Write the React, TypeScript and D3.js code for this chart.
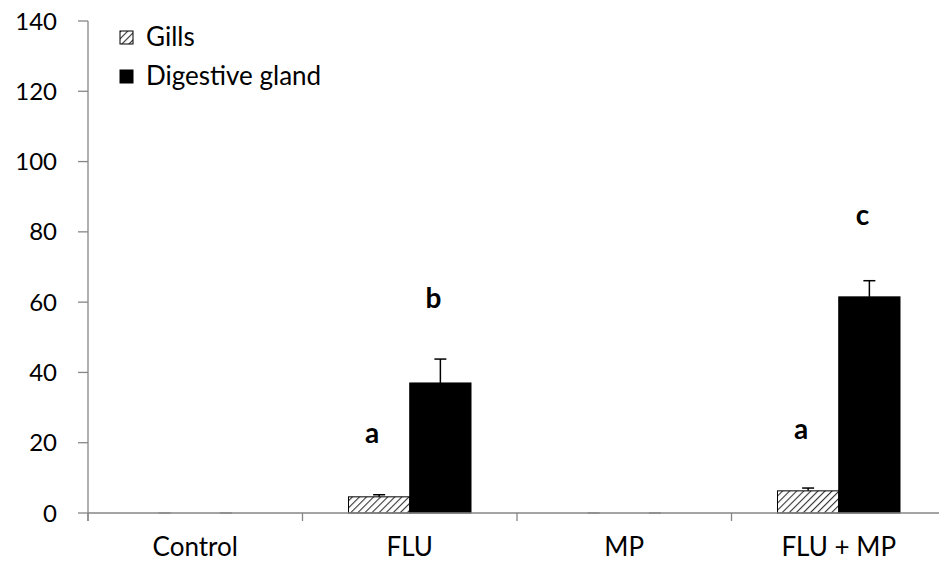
import React from "react";
import * as d3 from "d3";

const categories = ["Control", "FLU", "MP", "FLU + MP"];
const series = ["Gills", "Digestive gland"];
const gillsValues = [0, 4.6, 0, 6.3];
const gillsErrors = [0, 0.6, 0, 0.8];
const glandValues = [0, 37, 0, 61.5];
const glandErrors = [0, 6.8, 0, 4.6];
const yTicks = [0, 20, 40, 60, 80, 100, 120, 140];
// significance letters: [category, series, letter, y-value of baseline]
const letters: [string, string, string, number][] = [
  ["FLU", "Gills", "a", 20],
  ["FLU", "Digestive gland", "b", 58.3],
  ["FLU + MP", "Gills", "a", 21],
  ["FLU + MP", "Digestive gland", "c", 82],
];

const W = 939;
const H = 563;
const font = "Lato, 'Open Sans', sans-serif";
const axisColor = "#868686";

const App = () => {
  const x = d3.scaleBand().domain(categories).range([88, 946]);
  const x1 = d3
    .scaleBand()
    .domain(series)
    .range([46, x.bandwidth() - 46]);
  const y = d3.scaleLinear().domain([0, 140]).range([513, 21]);

  const rows = categories.map((c, i) => [
    { cat: c, s: "Gills", v: gillsValues[i], e: gillsErrors[i] },
    { cat: c, s: "Digestive gland", v: glandValues[i], e: glandErrors[i] },
  ]).flat();

  const bx = (c: string, s: string) => (x(c) as number) + (x1(s) as number);
  const bw = x1.bandwidth();

  return (
    <svg
      width={W}
      height={H}
      style={{ position: "absolute", left: 0, top: 0, background: "#fff" }}
      fontFamily={font}
    >
      <defs>
        <pattern
          id="hatch"
          patternUnits="userSpaceOnUse"
          width={5}
          height={5}
          patternTransform="rotate(45)"
        >
          <rect width={5} height={5} fill="#fff" />
          <line x1={0} y1={0} x2={0} y2={5} stroke="#333" strokeWidth={2.2} />
        </pattern>
      </defs>

      {/* bars */}
      {rows.map((d, i) => (
        <rect
          key={i}
          x={bx(d.cat, d.s)}
          y={y(d.v)}
          width={bw}
          height={y(0) - y(d.v)}
          fill={d.s === "Gills" ? "url(#hatch)" : "#000"}
          stroke="#000"
          strokeWidth={d.v > 0 ? 1 : 0}
        />
      ))}

      {/* error bars */}
      {rows.map((d, i) => {
        const cx = bx(d.cat, d.s) + bw / 2;
        return (
          <g key={"e" + i} stroke={d.v > 0 ? "#000" : "#999"} strokeWidth={1.5}>
            <line x1={cx} x2={cx} y1={y(d.v)} y2={y(d.v + d.e)} />
            <line x1={cx - 6} x2={cx + 6} y1={y(d.v + d.e)} y2={y(d.v + d.e)} />
          </g>
        );
      })}

      {/* axes */}
      <g stroke={axisColor} strokeWidth={1.3}>
        <line x1={88} x2={88} y1={y(140)} y2={521} />
        <line x1={88} x2={946} y1={y(0)} y2={y(0)} />
        {yTicks.map((t) => (
          <line key={t} x1={78} x2={88} y1={y(t)} y2={y(t)} />
        ))}
        {categories.map((c) => (
          <line key={c} x1={x(c)} x2={x(c)} y1={y(0)} y2={521} />
        ))}
      </g>
      {yTicks.map((t) => (
        <text
          key={t}
          x={57}
          y={y(t)}
          dy="0.36em"
          textAnchor="end"
          fontSize={24}
          fill="#000"
        >
          {t}
        </text>
      ))}
      {categories.map((c) => (
        <text
          key={c}
          x={(x(c) as number) + x.bandwidth() / 2}
          y={556}
          textAnchor="middle"
          fontSize={26}
          fill="#000"
        >
          {c}
        </text>
      ))}

      {/* significance letters */}
      {letters.map(([c, s, l, v], i) => (
        <text
          key={"l" + i}
          x={bx(c, s) + bw / 2 - 7}
          y={y(v)}
          textAnchor="middle"
          fontSize={28}
          fontWeight="bold"
          fill="#000"
        >
          {l}
        </text>
      ))}

      {/* legend */}
      {series.map((s, i) => (
        <g key={s} transform={`translate(120, ${31 + i * 39})`}>
          <rect
            width={13}
            height={13}
            fill={s === "Gills" ? "url(#hatch)" : "#000"}
            stroke="#000"
            strokeWidth={1}
          />
          <text x={26} y={15} fontSize={26} fill="#000">
            {s}
          </text>
        </g>
      ))}
    </svg>
  );
};

export default App;
